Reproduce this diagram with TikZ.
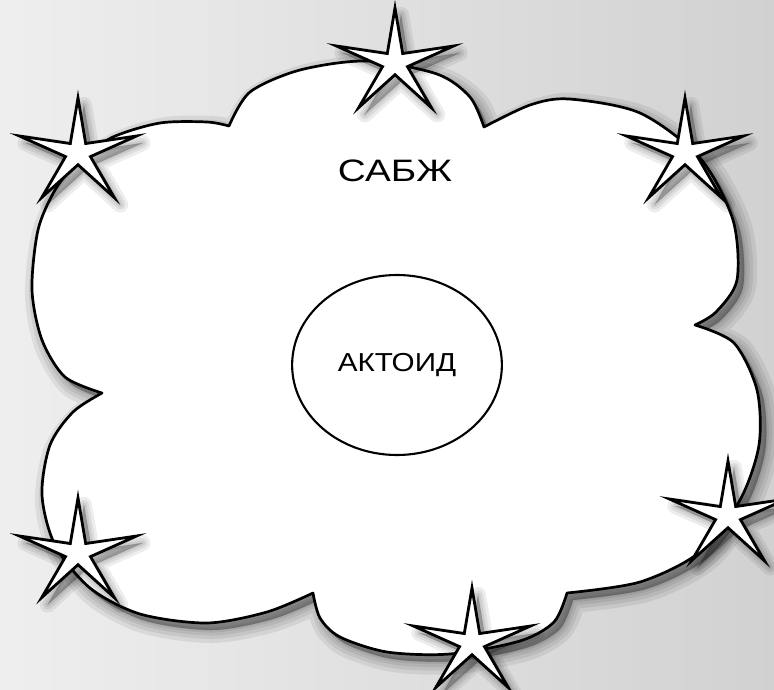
\documentclass[tikz,border=0pt]{standalone}
\usepackage{fontspec}
\setmainfont{Liberation Sans}
\usetikzlibrary{shapes.geometric}
\begin{document}
\begin{tikzpicture}[x=1pt,y=-1pt,
  shadlayer/.style={preaction={transform canvas={shift={(6,7)}}, draw=black, fill=black, line join=round, line width=#1, opacity=0.07}},
  shad/.style={shadlayer=26pt, shadlayer=18pt, shadlayer=11pt, shadlayer=5pt, shadlayer=1pt},
  starshad/.style={shadlayer=16pt, shadlayer=10pt, shadlayer=5pt, shadlayer=1pt},
  cloudline/.style={draw=black, line width=2.7pt, fill=white, line join=round},
  starnode/.style={star, star points=5, star point ratio=4.7, minimum size=110pt, inner sep=0pt,
    draw=black, line width=2.8pt, fill=white, line join=miter, xscale=1.12, transform shape},
  ovalnode/.style={ellipse, draw=black, line width=2.1pt, fill=white, minimum width=184pt, minimum height=180pt,
    inner sep=0pt, font=\fontsize{26}{30}\selectfont, xscale=1.14, transform shape},
  titletext/.style={font=\fontsize{31}{36}\selectfont, inner sep=0pt, xscale=1.25, transform shape}
]
\useasboundingbox (0,0) rectangle (774,690);
\shade[left color=gray!13, right color=gray!36] (0,0) rectangle (774,690);

% cloud
\path[shad, cloudline] (229,126)
  -- plot[smooth] coordinates {(229,126) (250,92) (300,70) (367,61) (437,74) (470,97) (484,127)}
  -- plot[smooth] coordinates {(484,127) (530,105) (569,99) (640,113) (700,158) (733,220) (737,280) (716,312) (695,325)}
  -- plot[smooth] coordinates {(695,325) (734,343) (757,390) (759,445) (740,500) (700,552) (640,582) (567,593)}
  -- plot[smooth] coordinates {(567,593) (554,622) (520,641) (450,654) (387,652) (340,637) (320,618) (313,593)}
  -- plot[smooth] coordinates {(313,593) (267,612) (207,623) (140,614) (90,588) (55,545) (42,495) (50,445) (73,412) (102,393)}
  -- plot[smooth] coordinates {(102,393) (65,377) (42,340) (32,290) (38,230) (55,190) (78,160)}
  -- plot[smooth] coordinates {(78,160) (113,137) (160,123) (207,122) (229,126)}
  -- cycle;

% stars
\node[starshad, starnode] (s1) at (395,63) {};
\node[starshad, starnode] (s2) at (78,153) {};
\node[starshad, starnode] (s3) at (685,153) {};
\node[starshad, starnode] (s4) at (78,553) {};
\node[starshad, starnode] (s5) at (728,516) {};
\node[starshad, starnode] (s6) at (472,643) {};

% texts
\node[titletext] (sabzh) at (395,171) {САБЖ};
\node[ovalnode] (aktoid) at (397,365) {АКТОИД};
\end{tikzpicture}
\end{document}
